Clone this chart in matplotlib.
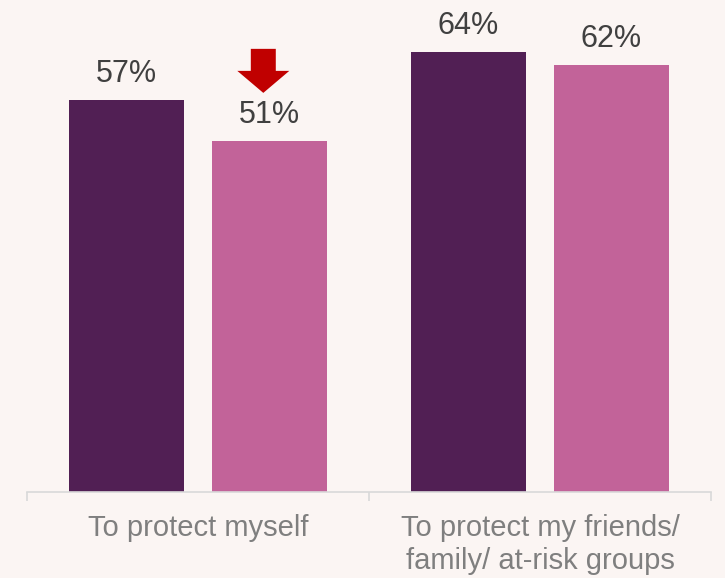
import matplotlib.pyplot as plt
from matplotlib.patches import Polygon
import numpy as np

plt.rcParams['font.family'] = ['Liberation Sans', 'DejaVu Sans']

categories = ['To protect myself', 'To protect my friends/\nfamily/ at-risk groups']
series_a = [57, 64]
series_b = [51, 62]
labels_a = ['57%', '64%']
labels_b = ['51%', '62%']

bg = '#FBF5F3'
dark = '#511F54'
pink = '#C26399'
arrow_red = '#C00000'

fig = plt.figure(figsize=(7.25, 5.78), dpi=100, facecolor=bg)
ax = fig.add_axes([0.0372, 0.1488, 0.9435, 0.8512], facecolor=bg)

x = np.arange(len(categories))
width = 0.336
offset = 0.209

bars_a = ax.bar(x - offset, series_a, width, color=dark)
bars_b = ax.bar(x + offset, series_b, width, color=pink)

# value labels above each bar
for bars, labels in ((bars_a, labels_a), (bars_b, labels_b)):
    for b, lab in zip(bars, labels):
        ax.annotate(lab, (b.get_x() + b.get_width() / 2, b.get_height()),
                    xytext=(0, 13), textcoords='offset points',
                    ha='center', va='baseline', fontsize=22, color='#404040')

# red down arrow over the first pink bar
b = bars_b[0]
cx = b.get_x() + b.get_width() / 2 - 0.018
tip = b.get_height() + 7.0
neck = b.get_height() + 10.2
top = b.get_height() + 13.4
hw, sw = 0.076, 0.0365
arrow = Polygon([(cx - sw, top), (cx + sw, top), (cx + sw, neck), (cx + hw, neck),
                 (cx, tip), (cx - hw, neck), (cx - sw, neck)],
                closed=True, facecolor=arrow_red, edgecolor='none')
ax.add_patch(arrow)

ax.set_xlim(-0.5, 1.5)
ax.set_ylim(0, 71.5)
ax.set_yticks([])
ax.set_xticks([-0.5, 0.5, 1.5])
ax.set_xticklabels([])
ax.set_xticks(x, minor=True)
ax.set_xticklabels(categories, minor=True, fontsize=21, color='#7F7F7F',
                   linespacing=1.2)
ax.tick_params(axis='x', which='major', length=6.5, width=1.2, color='#D9D9D9', direction='out')
ax.tick_params(axis='x', which='minor', length=0, pad=16)

for side in ('top', 'right', 'left'):
    ax.spines[side].set_visible(False)
ax.spines['bottom'].set_color('#D9D9D9')
ax.spines['bottom'].set_linewidth(1.2)

fig.savefig('out.png', dpi=100, facecolor=bg)
